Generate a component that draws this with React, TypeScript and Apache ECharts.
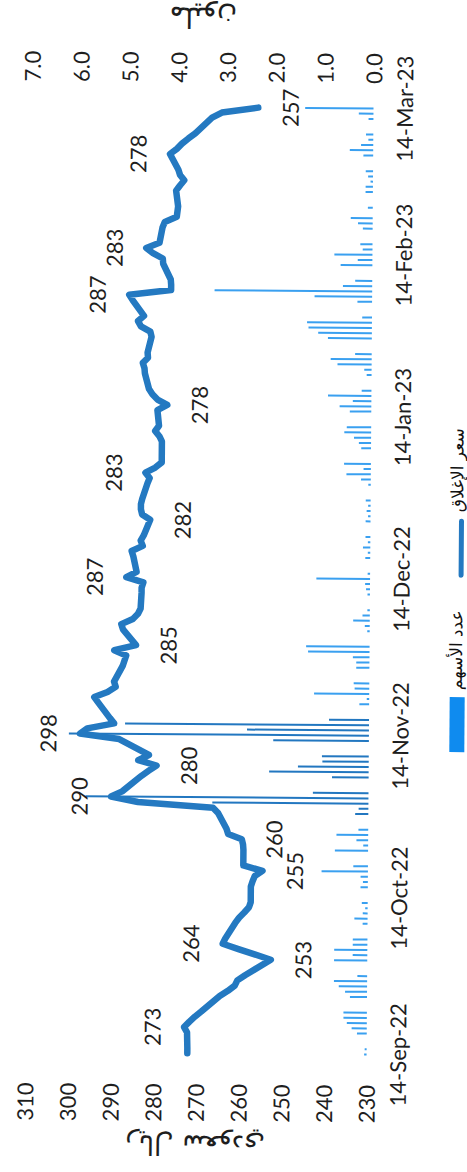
import React, { useEffect, useRef } from "react";
import * as echarts from "echarts";

const dates = [
  "2022-09-14", "2022-09-15", "2022-09-18", "2022-09-19", "2022-09-20", "2022-09-21", "2022-09-22",
  "2022-09-25", "2022-09-26", "2022-09-27", "2022-09-28", "2022-09-29",
  "2022-10-02", "2022-10-03", "2022-10-04", "2022-10-05", "2022-10-06",
  "2022-10-09", "2022-10-10", "2022-10-11", "2022-10-12", "2022-10-13",
  "2022-10-16", "2022-10-17", "2022-10-18", "2022-10-19", "2022-10-20",
  "2022-10-23", "2022-10-24", "2022-10-25", "2022-10-26", "2022-10-27",
  "2022-10-30", "2022-10-31", "2022-11-01", "2022-11-02", "2022-11-03",
  "2022-11-06", "2022-11-07", "2022-11-08", "2022-11-09", "2022-11-10",
  "2022-11-13", "2022-11-14", "2022-11-15", "2022-11-16", "2022-11-17",
  "2022-11-20", "2022-11-21", "2022-11-22", "2022-11-23", "2022-11-24",
  "2022-11-27", "2022-11-28", "2022-11-29", "2022-11-30", "2022-12-01",
  "2022-12-04", "2022-12-05", "2022-12-06", "2022-12-07", "2022-12-08",
  "2022-12-11", "2022-12-12", "2022-12-13", "2022-12-14", "2022-12-15",
  "2022-12-18", "2022-12-19", "2022-12-20", "2022-12-21", "2022-12-22",
  "2022-12-25", "2022-12-26", "2022-12-27", "2022-12-28", "2022-12-29",
  "2023-01-01", "2023-01-02", "2023-01-03", "2023-01-04", "2023-01-05",
  "2023-01-08", "2023-01-09", "2023-01-10", "2023-01-11", "2023-01-12",
  "2023-01-15", "2023-01-16", "2023-01-17", "2023-01-18", "2023-01-19",
  "2023-01-22", "2023-01-23", "2023-01-24", "2023-01-25", "2023-01-26",
  "2023-01-29", "2023-01-30", "2023-01-31", "2023-02-01", "2023-02-02",
  "2023-02-05", "2023-02-06", "2023-02-07", "2023-02-08", "2023-02-09",
  "2023-02-12", "2023-02-13", "2023-02-14", "2023-02-15", "2023-02-16",
  "2023-02-19", "2023-02-20", "2023-02-21", "2023-02-23",
  "2023-02-26", "2023-02-27", "2023-02-28", "2023-03-01", "2023-03-02",
  "2023-03-05", "2023-03-06", "2023-03-07", "2023-03-08", "2023-03-09",
  "2023-03-12", "2023-03-13", "2023-03-14",
];

// سعر الإغلاق (ريال)
const closePrices = [
  272.0, 272.0, 272.1, 272.8, 271.6, 270.3, 268.8,
  264.5, 262.6, 261.0, 260.4, 258.6,
  252.6, 256.4, 260.2, 263.9, 263.3,
  261.0, 260.1, 258.9, 257.8, 257.4,
  257.4, 257.0, 256.5, 254.7, 259.2,
  259.2, 259.3, 259.6, 262.8, 263.2,
  265.2, 266.4, 284.0, 290.3, 287.7,
  283.2, 281.5, 279.7, 284.0, 281.5,
  288.5, 297.7, 296.0, 289.7, 290.7,
  293.5, 294.4, 291.3, 289.4, 289.8,
  287.8, 287.4, 287.0, 289.8, 284.7,
  287.8, 288.2, 285.5, 284.3, 283.7,
  283.5, 283.5, 283.1, 287.1, 284.7,
  285.5, 285.9, 283.3, 283.8, 283.1,
  281.6, 283.5, 283.8, 283.8, 283.5,
  282.3, 281.8, 282.8, 280.5, 279.0,
  279.0, 279.0, 279.6, 280.6, 279.7,
  280.1, 277.8, 280.1, 281.3, 282.1,
  283.1, 283.2, 283.6, 282.4, 282.5,
  281.6, 281.9, 284.1, 284.8, 283.4,
  286.1, 286.9, 277.1, 277.1, 277.2,
  279.0, 279.1, 281.4, 283.0, 279.9,
  279.2, 278.7, 275.9, 275.6,
  276.1, 275.2, 274.2, 275.2, 275.6,
  277.6, 276.0, 274.8, 273.3, 271.7,
  267.8, 265.5, 257.0,
];

// عدد الأسهم (مليون)
const volumes = [
  0.05, 0.04, 0.2, 0.31, 0.41, 0.48, 0.48,
  0.35, 0.45, 0.58, 0.68, 0.2,
  0.68, 0.3, 0.68, 0.3, 0.3,
  0.1, 0.27, 0.1, 0.05, 0.12,
  0.15, 0.1, 0.15, 0.95, 0.3,
  0.68, 0.1, 0.24, 0.65, 0.2,
  0.27, 0.2, 3.2, 5.8, 1.14,
  0.75, 2.04, 1.45, 0.95, 0.96,
  1.96, 6.15, 2.5, 5.0, 0.82,
  0.2, 0.05, 1.13, 0.3, 0.32,
  0.27, 0.27, 0.34, 1.26, 1.3,
  0.05, 0.1, 0.34, 0.15, 0.05,
  0.05, 0.08, 0.1, 1.1, 0.05,
  0.1, 0.05, 0.15, 0.05, 0.1,
  0.1, 0.05, 0.08, 0.05, 0.1,
  0.05, 0.2, 0.5, 0.15, 0.55,
  0.2, 0.25, 0.35, 0.55, 0.5,
  0.44, 0.65, 0.38, 0.89, 0.2,
  0.1, 0.15, 0.7, 0.84, 0.34,
  0.9, 1.1, 1.3, 1.33, 0.2,
  0.3, 1.18, 3.23, 0.6, 0.35,
  0.65, 0.3, 0.78, 0.2, 0.25,
  0.2, 0.3, 0.45, 0.1,
  0.15, 0.15, 0.05, 0.1, 0.15,
  0.2, 0.48, 0.25, 0.1, 0.15,
  0.1, 0.3, 1.4,
];

const monthTicks = ["2022-09-14", "2022-10-14", "2022-11-14", "2022-12-14", "2023-01-14", "2023-02-14", "2023-03-14"];
const labelsAbove = ["2022-09-19", "2022-10-05", "2022-11-02", "2022-11-14", "2022-12-14", "2023-01-03", "2023-02-06", "2023-02-15", "2023-03-05"];
const labelsBelow = ["2022-10-02", "2022-10-19", "2022-10-25", "2022-11-08", "2022-12-01", "2022-12-25", "2023-01-16", "2023-03-14"];
const darkBarFrom = "2022-10-30";
const darkBarTo = "2022-11-17";

const MONTHS = ["Jan", "Feb", "Mar", "Apr", "May", "Jun", "Jul", "Aug", "Sep", "Oct", "Nov", "Dec"];

function parseLocal(s: string): number {
  const [y, m, d] = s.split("-").map(Number);
  return new Date(y, m - 1, d).getTime();
}

function fmtDate(v: number): string {
  const dt = new Date(v);
  const yy = String(dt.getFullYear() % 100).padStart(2, "0");
  return `${dt.getDate()}-${MONTHS[dt.getMonth()]}-${yy}`;
}

const TXT = "#1e1e1e";
const LINE_COLOR = "#2479C1";
const BAR_COLOR = "#3AA0F0";
const BAR_DARK = "#2277C0";
const FONT = "Lato";

export default function App() {
  const ref = useRef<HTMLDivElement>(null);

  useEffect(() => {
    if (!ref.current) return;
    const chart = echarts.init(ref.current, undefined, { renderer: "svg" });

    const lineData = dates.map((d, i) => {
      let label: any = { show: false };
      if (labelsAbove.includes(d)) label = { show: true, position: "top" };
      else if (labelsBelow.includes(d)) label = { show: true, position: "bottom" };
      return { value: [parseLocal(d), closePrices[i]], label };
    });
    const barData = dates.map((d, i) => [parseLocal(d), volumes[i]]);

    const option: any = {
      animation: false,
      backgroundColor: "#ffffff",
      grid: { left: 108.5, right: 96.5, top: 28, bottom: 97.5 },
      xAxis: {
        type: "value",
        min: parseLocal("2022-09-12"),
        max: parseLocal("2023-03-16"),
        axisLine: { show: false },
        axisTick: { show: false },
        splitLine: { show: false },
        axisLabel: {
          customValues: monthTicks.map(parseLocal),
          formatter: (v: number) => fmtDate(v),
          fontSize: 22,
          fontFamily: FONT,
          color: TXT,
          margin: 20,
          hideOverlap: false,
          showMinLabel: true,
          showMaxLabel: true,
        },
      },
      yAxis: [
        {
          type: "value",
          min: 230,
          max: 310,
          interval: 10,
          position: "left",
          axisLine: { show: false },
          axisTick: { show: false },
          splitLine: { show: false },
          axisLabel: { fontSize: 22, fontFamily: FONT, color: TXT, margin: 20 },
        },
        {
          type: "value",
          min: 0,
          max: 7,
          interval: 1,
          position: "right",
          axisLine: { show: false },
          axisTick: { show: false },
          splitLine: { show: false },
          axisLabel: {
            fontSize: 22,
            fontFamily: FONT,
            color: TXT,
            margin: 14,
            formatter: (v: number) => v.toFixed(1),
          },
        },
      ],
      series: [
        {
          name: "عدد الأسهم",
          type: "bar",
          yAxisIndex: 1,
          barWidth: 2,
          data: barData,
          itemStyle: {
            color: (p: any) => {
              const d = dates[p.dataIndex];
              return d >= darkBarFrom && d <= darkBarTo ? BAR_DARK : BAR_COLOR;
            },
          },
          z: 1,
        },
        {
          name: "سعر الإغلاق",
          type: "line",
          yAxisIndex: 0,
          data: lineData,
          symbol: "circle",
          symbolSize: 2,
          showSymbol: true,
          showAllSymbol: true,
          itemStyle: { color: LINE_COLOR },
          lineStyle: { width: 6.5, color: LINE_COLOR, cap: "round", join: "round" },
          label: {
            fontSize: 22,
            fontFamily: FONT,
            color: TXT,
            distance: 20,
            formatter: (p: any) => String(Math.round(p.value[1])),
          },
          z: 3,
        },
      ],
      graphic: [
        {
          type: "text",
          x: 27,
          y: 198.75,
          rotation: Math.PI / 2,
          style: {
            text: "ريال سعودي",
            fontSize: 27,
            fontFamily: "DejaVu Sans",
            fill: TXT,
            align: "center",
            verticalAlign: "middle",
          },
        },
        {
          type: "text",
          x: 1155,
          y: 198.75,
          rotation: Math.PI / 2,
          style: {
            text: "مليون",
            fontSize: 28,
            fontFamily: "DejaVu Sans",
            fill: TXT,
            align: "center",
            verticalAlign: "middle",
          },
        },
        {
          type: "rect",
          shape: { x: 422, y: 450, width: 55, height: 15 },
          style: { fill: "#0F8BEF" },
        },
        {
          type: "text",
          x: 484,
          y: 456,
          style: {
            text: "عدد الأسهم",
            fontSize: 17,
            fontFamily: "DejaVu Sans",
            fill: "#111",
            align: "left",
            verticalAlign: "middle",
          },
        },
        {
          type: "line",
          shape: { x1: 599, y1: 460.5, x2: 653, y2: 460.5 },
          style: { stroke: LINE_COLOR, lineWidth: 5, lineCap: "round" },
        },
        {
          type: "text",
          x: 662,
          y: 456,
          style: {
            text: "سعر الإغلاق",
            fontSize: 17,
            fontFamily: "DejaVu Sans",
            fill: "#111",
            align: "left",
            verticalAlign: "middle",
          },
        },
      ],
    };

    chart.setOption(option);
    return () => chart.dispose();
  }, []);

  return (
    <div
      style={{
        position: "fixed",
        left: 0,
        top: 0,
        width: 467,
        height: 1172,
        overflow: "hidden",
        background: "#ffffff",
      }}
    >
      <div
        ref={ref}
        style={{
          position: "absolute",
          left: -352.5,
          top: 352.5,
          width: 1172,
          height: 467,
          transform: "rotate(-89.58deg)",
          transformOrigin: "50% 50%",
        }}
      />
    </div>
  );
}
